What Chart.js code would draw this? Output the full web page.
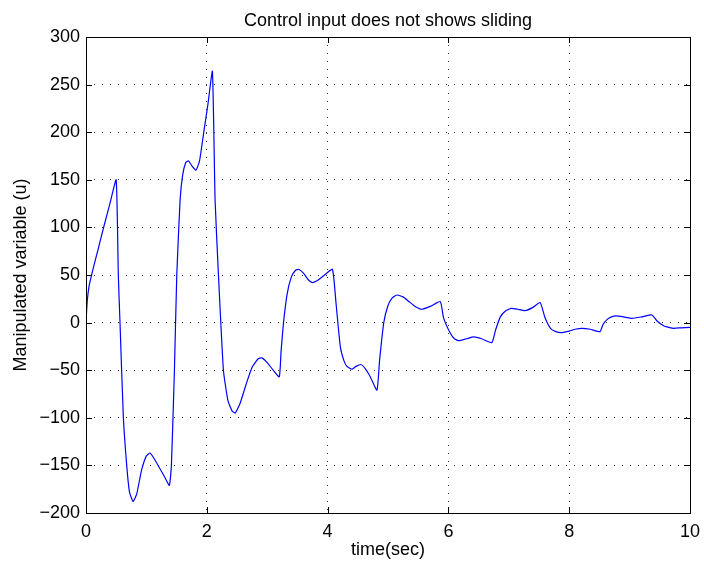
<!DOCTYPE html>
<html>
<head>
<meta charset="utf-8">
<script src="https://cdn.jsdelivr.net/npm/chart.js@4/dist/chart.umd.min.js"></script>
<style>
  html, body { margin: 0; padding: 0; background: #fff; }
  #wrap { width: 704px; height: 565px; }
</style>
</head>
<body>
<div id="wrap"><canvas id="uChart" width="704" height="565"></canvas></div>
<script>
// time (sec) and control input u
const timeSec = [
  0, 0.02, 0.05, 0.1, 0.2, 0.3, 0.4, 0.5,
  0.535, 0.563, 0.618, 0.674, 0.72, 0.78, 0.84, 0.92, 1.0, 1.06, 1.13, 1.22, 1.3, 1.38,
  1.414, 1.464, 1.503, 1.558, 1.6, 1.65, 1.695, 1.75, 1.82, 1.88, 1.95, 2.02, 2.093,
  2.137, 2.193, 2.275, 2.35, 2.42, 2.47, 2.55, 2.65, 2.75, 2.85, 2.91, 3.0, 3.1, 3.2,
  3.23, 3.27, 3.33, 3.4, 3.47, 3.52, 3.6, 3.68, 3.75, 3.85, 3.95, 4.08,
  4.14, 4.21, 4.27, 4.32, 4.40, 4.47, 4.55, 4.62, 4.7, 4.817,
  4.86, 4.93, 5.0, 5.07, 5.15, 5.25, 5.35, 5.45, 5.56, 5.7, 5.866,
  5.92, 6.03, 6.1, 6.17, 6.3, 6.42, 6.55, 6.72,
  6.78, 6.86, 6.94, 7.04, 7.15, 7.27, 7.4, 7.52,
  7.6, 7.69, 7.78, 7.88, 8.0, 8.1, 8.21, 8.35, 8.51,
  8.56, 8.63, 8.7, 8.77, 8.9, 9.04, 9.2, 9.37,
  9.45, 9.57, 9.65, 9.73, 9.85, 10
];
const controlU = [
  0, 22, 38, 52, 77, 102, 126, 150,
  50, 0, -99, -150, -178, -188, -180, -155, -140, -137, -143, -153, -162, -171,
  -150, -50, 50, 129, 155, 168, 170, 165, 160, 170, 200, 230, 264,
  129, 50, -50, -82, -93, -95, -85, -65, -47, -38, -37, -42, -50, -57,
  -30, 0, 30, 48, 55, 56, 52, 45, 42, 45, 50, 56,
  20, -25, -40, -46, -49, -46, -44, -48, -56, -71,
  -40, 0, 18, 26, 29, 27, 22, 17, 14, 17, 22,
  5, -11, -17, -19, -17, -15, -17, -21,
  -8, 6, 12, 15, 14, 12.5, 16, 21,
  5, -6, -9.5, -10.5, -9, -7, -6, -7, -9.5,
  -2, 3.4, 6, 7, 6, 4.5, 6, 8,
  2, -3.6, -5, -6, -5.5, -5
];
const xTicks = [0, 2, 4, 6, 8, 10];
const yTicks = [-200, -150, -100, -50, 0, 50, 100, 150, 200, 250, 300];
const titleText = 'Control input does not shows sliding';

const FONT = 'Helvetica, Arial, "Liberation Sans", sans-serif';
const SIZE = 18;
const fmt = v => (v < 0 ? '\u2212' + Math.abs(v) : String(v));

// MATLAB-like box with inward ticks, title centred over the axes
const boxPlugin = {
  id: 'matlabBox',
  afterDraw(chart) {
    const { ctx, chartArea: a, scales } = chart;
    ctx.save();
    ctx.strokeStyle = '#000';
    ctx.lineWidth = 1;
    ctx.strokeRect(Math.round(a.left) + 0.5, Math.round(a.top) + 0.5,
                   Math.round(a.right - a.left), Math.round(a.bottom - a.top));
    const len = 6;
    ctx.beginPath();
    xTicks.forEach(v => {
      const px = Math.round(scales.x.getPixelForValue(v)) + 0.5;
      ctx.moveTo(px, a.bottom); ctx.lineTo(px, a.bottom - len);
      ctx.moveTo(px, a.top); ctx.lineTo(px, a.top + len);
    });
    yTicks.forEach(v => {
      const py = Math.round(scales.y.getPixelForValue(v)) + 0.5;
      ctx.moveTo(a.left, py); ctx.lineTo(a.left + len, py);
      ctx.moveTo(a.right, py); ctx.lineTo(a.right - len, py);
    });
    ctx.stroke();

    ctx.fillStyle = '#000';
    ctx.font = SIZE + 'px ' + FONT;
    ctx.textAlign = 'center';
    ctx.textBaseline = 'alphabetic';
    ctx.fillText(titleText, (a.left + a.right) / 2, 26);
    ctx.restore();
  }
};

const points = timeSec.map((t, i) => ({ x: t, y: controlU[i] }));

new Chart(document.getElementById('uChart').getContext('2d'), {
  type: 'line',
  data: {
    datasets: [{
      data: points,
      borderColor: '#0000ff',
      borderWidth: 1.2,
      pointRadius: 0,
      tension: 0.15,
      fill: false
    }]
  },
  options: {
    responsive: false,
    animation: false,
    layout: { padding: { left: 0, right: 14, top: 37, bottom: 0 } },
    plugins: {
      legend: { display: false },
      tooltip: { enabled: false },
      title: { display: false }
    },
    scales: {
      x: {
        type: 'linear',
        min: 0, max: 10,
        afterBuildTicks: s => { s.ticks = xTicks.map(v => ({ value: v })); },
        afterFit: s => { s.height = 52; s.paddingLeft = 0; s.paddingRight = 0; },
        border: { display: false, dash: [1, 7] },
        grid: { color: 'rgba(0,0,0,0.8)', drawTicks: false, lineWidth: 1 },
        ticks: { color: '#000', padding: 8, font: { family: FONT, size: SIZE }, callback: fmt, maxRotation: 0 },
        title: { display: true, text: 'time(sec)', color: '#000', padding: { top: 0 },
                 font: { family: FONT, size: SIZE } }
      },
      y: {
        min: -200, max: 300,
        afterBuildTicks: s => { s.ticks = yTicks.map(v => ({ value: v })); },
        afterFit: s => { s.width = 86; s.paddingTop = 0; s.paddingBottom = 0; },
        border: { display: false, dash: [1, 7] },
        grid: { color: 'rgba(0,0,0,0.8)', drawTicks: false, lineWidth: 1 },
        ticks: { color: '#000', padding: 6, font: { family: FONT, size: SIZE }, callback: fmt },
        title: { display: true, text: 'Manipulated variable (u)', color: '#000', padding: { top: 10, bottom: 0 },
                 font: { family: FONT, size: SIZE } }
      }
    }
  },
  plugins: [boxPlugin]
});
</script>
</body>
</html>
